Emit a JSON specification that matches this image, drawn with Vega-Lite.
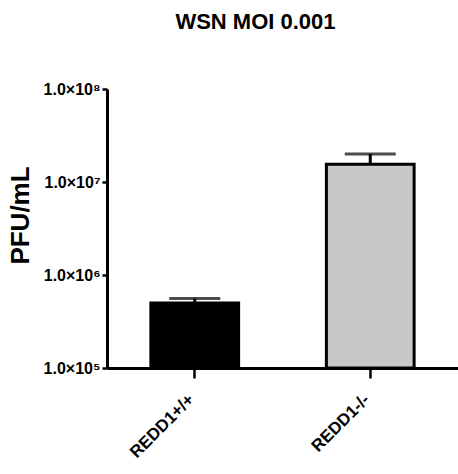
{
  "$schema": "https://vega.github.io/schema/vega-lite/v6.json",
  "autosize": {"type": "none"},
  "padding": {"left": 107, "top": 89, "right": 0, "bottom": 106},
  "width": 351,
  "height": 279,
  "config": {"font": "Liberation Sans", "view": {"stroke": null}},
  "title": {"text": "WSN MOI 0.001", "fontSize": 22, "fontWeight": "bold", "color": "#000", "offset": 47, "dx": -27, "font": "Liberation Sans"},
  "data": {"values": [
    {"group": "REDD1+/+", "pfu": 500000, "upper": 560000},
    {"group": "REDD1-/-", "pfu": 15500000, "upper": 20000000}
  ]},
  "encoding": {
    "x": {"field": "group", "type": "nominal", "sort": null,
      "scale": {"paddingInner": 0, "paddingOuter": 0},
      "axis": {"title": null, "labelAngle": -45, "labelFontSize": 17, "labelFontWeight": "bold", "labelColor": "#000", "labelAlign": "right", "labelBaseline": "top", "labelOffset": -9, "tickSize": 10, "tickWidth": 2.5, "tickColor": "#000", "domainColor": "#000", "domainWidth": 3, "labelPadding": 13}}
  },
  "layer": [
    {"mark": {"type": "rule", "strokeWidth": 3, "color": "#000"},
     "encoding": {"y": {"field": "pfu", "type": "quantitative"}, "y2": {"field": "upper"}}},
    {"mark": {"type": "tick", "thickness": 3, "size": 51, "color": "#000"},
     "encoding": {"y": {"field": "upper", "type": "quantitative"}}},
    {"mark": {"type": "bar", "width": {"band": 0.5}, "stroke": "#000", "strokeWidth": 3},
     "encoding": {
       "y": {"field": "pfu", "type": "quantitative",
         "scale": {"type": "log", "domain": [100000, 100000000], "nice": false},
         "axis": {"title": "PFU/mL", "titleFontSize": 26, "titleFontWeight": "bold", "titleColor": "#000",
           "titleX": -87, "titleY": 126, "titleAngle": -90, "titleAlign": "center", "titleBaseline": "middle",
           "values": [100000, 1000000, 10000000, 100000000], "grid": false,
           "labelExpr": "'1.0×10' + ['⁵','⁶','⁷','⁸'][round(log(datum.value)/LN10) - 5]",
           "labelFontSize": 16, "labelFontWeight": "bold", "labelColor": "#000", "labelPadding": 2, "tickSize": 5, "tickWidth": 2.5, "tickColor": "#000", "domainColor": "#000", "domainWidth": 3}},
       "y2": {"datum": 100000},
       "fill": {"field": "group", "type": "nominal", "scale": {"domain": ["REDD1+/+", "REDD1-/-"], "range": ["#000000", "#c8c8c8"]}, "legend": null}
     }}
  ]
}
